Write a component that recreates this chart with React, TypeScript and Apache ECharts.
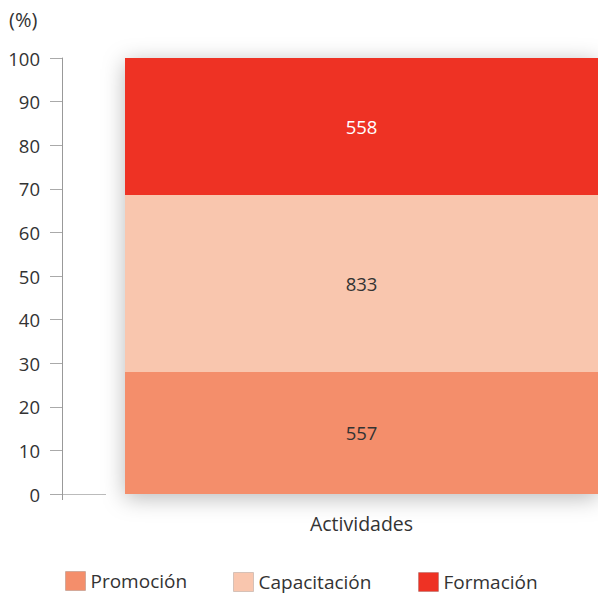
import React, { useEffect, useRef } from "react";
import * as echarts from "echarts";

const categories = ["Actividades"];
const seriesNames = ["Promoción", "Capacitación", "Formación"];
const percentValues = [28.0, 40.6, 31.4];
const countLabels = [557, 833, 558];
const yTicks = [0, 10, 20, 30, 40, 50, 60, 70, 80, 90, 100];
const colors = ["#F48E6B", "#F9C6AE", "#EE3224"];
const labelColors = ["#333333", "#333333", "#FFFFFF"];

const FONT = "'Open Sans', 'Noto Sans', sans-serif";

export default function App() {
  const ref = useRef<HTMLDivElement>(null);
  useEffect(() => {
    if (!ref.current) return;
    const chart = echarts.init(ref.current, undefined, { renderer: "svg" });
    const total = percentValues.reduce((a, b) => a + b, 0);
    const legendPos = [
      { left: 65, top: 571 },
      { left: 233, top: 572 },
      { left: 418, top: 572 },
    ];
    chart.setOption({
      animation: false,
      textStyle: { fontFamily: FONT },
      grid: { left: 125, right: 0, top: 58, bottom: 101, containLabel: false },
      xAxis: [
        {
          type: "category",
          data: categories,
          axisLine: { show: false },
          axisTick: { show: false },
          axisLabel: { color: "#333", fontSize: 19.5, margin: 19, fontFamily: FONT },
        },
        { type: "category", data: categories, show: false },
      ],
      yAxis: {
        type: "value",
        min: yTicks[0],
        max: yTicks[yTicks.length - 1],
        interval: 10,
        offset: 63,
        axisLine: { show: true, lineStyle: { color: "#999", width: 1 } },
        axisTick: { show: true, length: 12, lineStyle: { color: "#aaa" } },
        axisLabel: { color: "#333", fontSize: 18.5, margin: 22, fontFamily: FONT },
        splitLine: { show: false },
      },
      graphic: [
        { type: "text", left: 9, top: 9, style: { text: "(%)", fontSize: 20, fill: "#333", fontFamily: FONT } },
        { type: "line", shape: { x1: 55, y1: 494.5, x2: 106, y2: 494.5 }, style: { stroke: "#bbb", lineWidth: 1 } },
        { type: "line", shape: { x1: 62.5, y1: 494, x2: 62.5, y2: 500 }, style: { stroke: "#999", lineWidth: 1 } },
      ],
      legend: seriesNames.map((n, i) => ({
        data: [n],
        left: legendPos[i].left,
        top: legendPos[i].top,
        icon: "rect",
        itemWidth: 20,
        itemHeight: 19,
        itemGap: 5,
        padding: 0,
        selectedMode: false,
        itemStyle: { borderColor: "rgba(0,0,0,0.15)", borderWidth: 1 },
        textStyle: { color: "#333", fontSize: 19, fontFamily: FONT },
      })),
      series: [
        {
          name: "_shadow",
          type: "bar",
          xAxisIndex: 1,
          data: [total],
          barWidth: "100%",
          silent: true,
          z: 1,
          itemStyle: {
            color: "#ffffff",
            shadowBlur: 22,
            shadowColor: "rgba(0,0,0,0.28)",
            shadowOffsetY: 4,
          },
        },
        ...seriesNames.map((n, i) => ({
          name: n,
          type: "bar",
          stack: "total",
          barWidth: "100%",
          z: 3,
          data: [percentValues[i]],
          itemStyle: { color: colors[i] },
          label: {
            show: true,
            position: "inside",
            formatter: () => String(countLabels[i]),
            color: labelColors[i],
            fontSize: 18.5,
            fontFamily: FONT,
          },
        })),
      ],
    });
    return () => chart.dispose();
  }, []);
  return (
    <div
      ref={ref}
      style={{ position: "fixed", left: 0, top: 0, width: 598, height: 595, background: "#fff" }}
    />
  );
}
